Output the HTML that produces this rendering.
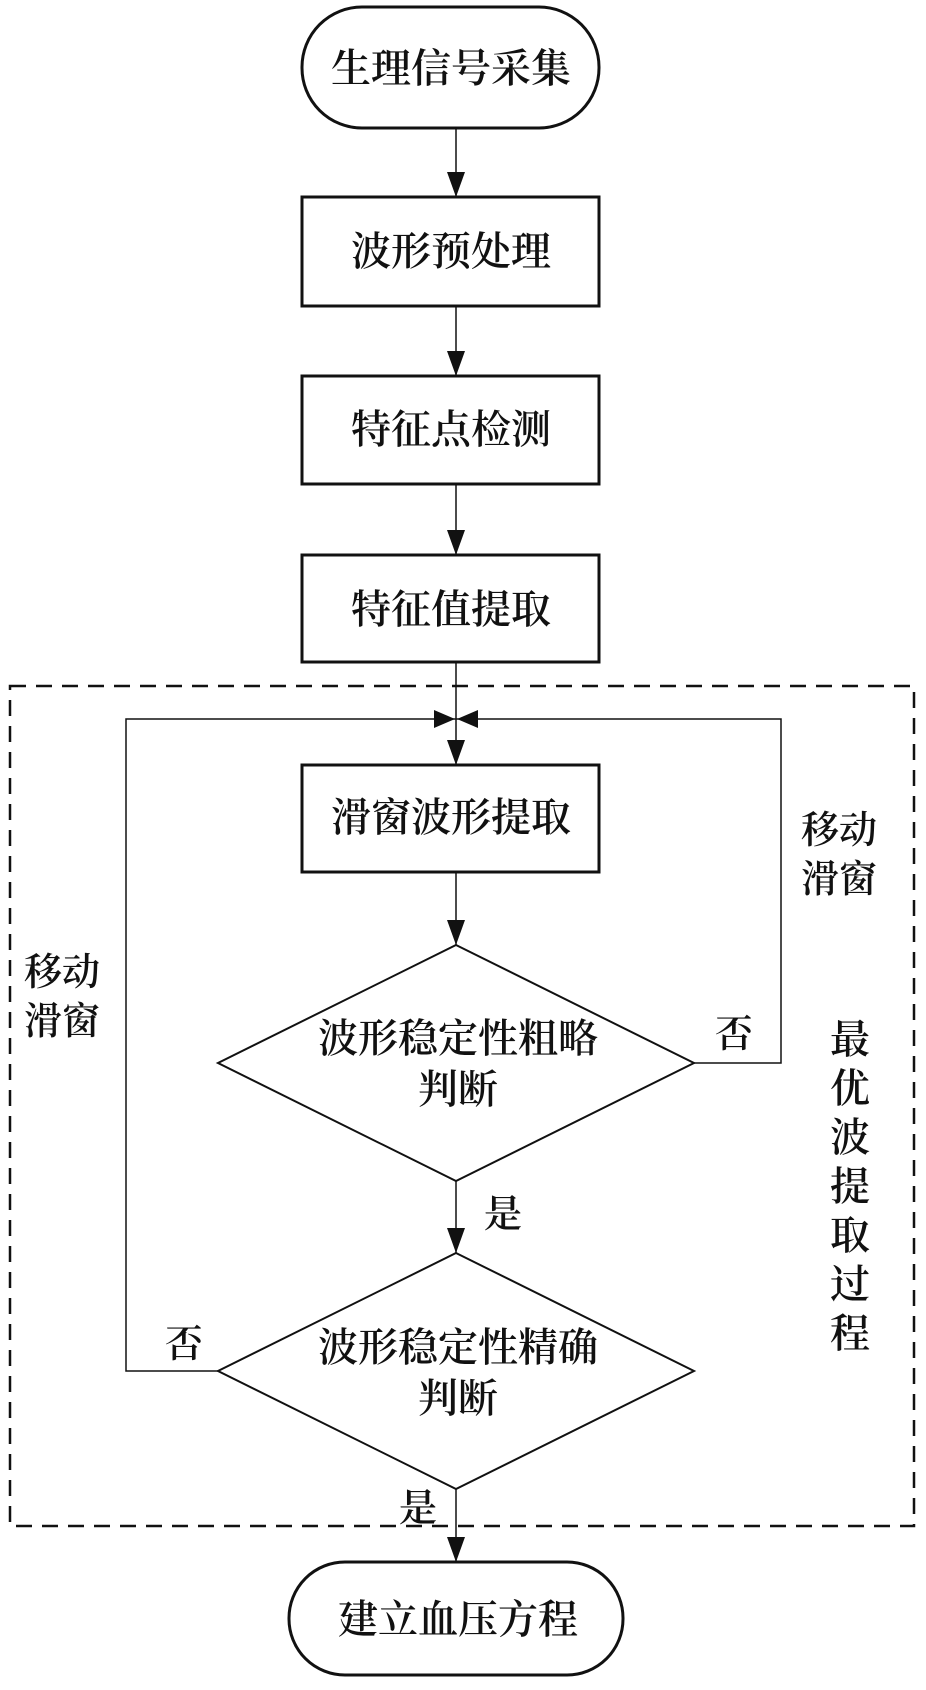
<!DOCTYPE html>
<html><head><meta charset="utf-8"><style>
body{margin:0;background:#fff;}
svg text{font-family:"Liberation Serif","Noto Serif CJK SC",serif;fill:#111;font-size:40px;font-weight:600;}
</style></head><body>
<svg width="926" height="1685" viewBox="0 0 926 1685" xmlns="http://www.w3.org/2000/svg">
<g fill="none" stroke="#111">
<rect x="302" y="7" width="297" height="121" rx="60" stroke-width="3"/>
<rect x="302" y="197" width="297" height="109" stroke-width="3"/>
<rect x="302" y="376" width="297" height="108" stroke-width="3"/>
<rect x="302" y="555" width="297" height="107" stroke-width="3"/>
<rect x="302" y="765" width="297" height="107" stroke-width="3"/>
<polygon points="456,945 694,1063 456,1181 218,1063" stroke-width="2"/>
<polygon points="456,1253 694,1371 456,1489 218,1371" stroke-width="2"/>
<rect x="289" y="1562" width="334" height="113" rx="56" stroke-width="3"/>
<rect x="10" y="686" width="904" height="840" stroke-width="2.5" stroke-dasharray="16,10"/>
<g stroke-width="1.5">
<line x1="456" y1="128" x2="456" y2="197"/>
<line x1="456" y1="306" x2="456" y2="376"/>
<line x1="456" y1="484" x2="456" y2="555"/>
<line x1="456" y1="662" x2="456" y2="765"/>
<line x1="456" y1="872" x2="456" y2="945"/>
<line x1="456" y1="1181" x2="456" y2="1253"/>
<line x1="456" y1="1489" x2="456" y2="1562"/>
<polyline points="694,1063 781,1063 781,719 456,719"/>
<polyline points="218,1371 126,1371 126,719 456,719"/>
</g>
</g>
<g fill="#111">
<polygon points="447,172 465,172 456,197"/>
<polygon points="447,351 465,351 456,376"/>
<polygon points="447,530 465,530 456,555"/>
<polygon points="447,740 465,740 456,765"/>
<polygon points="447,920 465,920 456,945"/>
<polygon points="447,1228 465,1228 456,1253"/>
<polygon points="447,1537 465,1537 456,1562"/>
<polygon points="434,710 434,728 455,719"/>
<polygon points="478,710 478,728 457,719"/>
</g>
<g text-anchor="middle">
<text x="451" y="82">生理信号采集</text>
<text x="451" y="265">波形预处理</text>
<text x="451" y="443">特征点检测</text>
<text x="451" y="623">特征值提取</text>
<text x="451" y="831">滑窗波形提取</text>
<text x="458" y="1052">波形稳定性粗略</text>
<text x="458" y="1103">判断</text>
<text x="458" y="1361">波形稳定性精确</text>
<text x="458" y="1412">判断</text>
<text x="458" y="1633">建立血压方程</text>
</g>
<g>
<text x="801" y="843" style="font-size:38px">移动</text>
<text x="801" y="892" style="font-size:38px">滑窗</text>
<text x="24" y="985" style="font-size:38px">移动</text>
<text x="24" y="1034" style="font-size:38px">滑窗</text>
<text x="715" y="1047" style="font-size:38px">否</text>
<text x="165" y="1357" style="font-size:38px">否</text>
<text x="484" y="1227" style="font-size:38px">是</text>
<text x="399" y="1521" style="font-size:38px">是</text>
<text x="830" y="1053" style="font-size:40px">最</text>
<text x="830" y="1102" style="font-size:40px">优</text>
<text x="830" y="1151" style="font-size:40px">波</text>
<text x="830" y="1200" style="font-size:40px">提</text>
<text x="830" y="1249" style="font-size:40px">取</text>
<text x="830" y="1298" style="font-size:40px">过</text>
<text x="830" y="1347" style="font-size:40px">程</text>
</g>
</svg>
</body></html>
